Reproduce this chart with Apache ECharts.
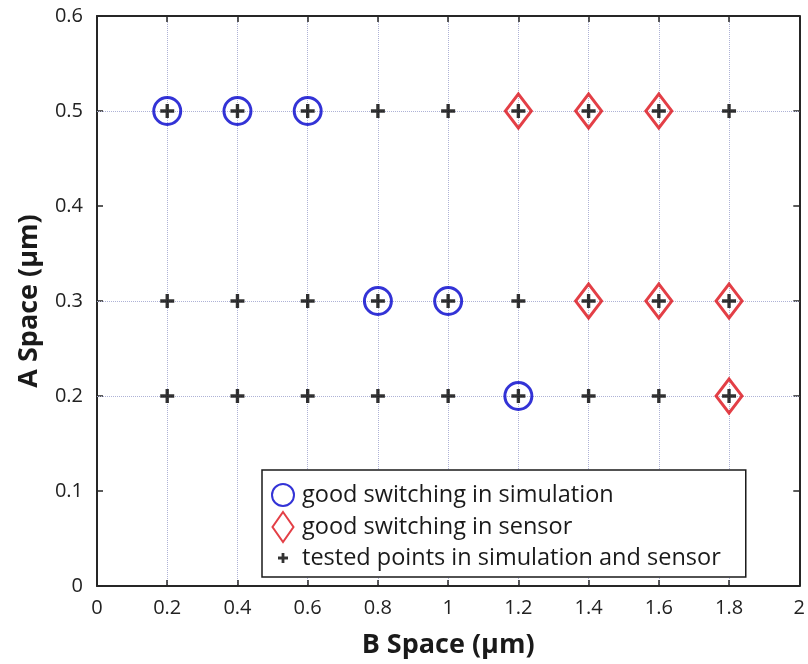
<!DOCTYPE html>
<html>
<head>
<meta charset="utf-8">
<script src="https://cdn.jsdelivr.net/npm/echarts@6/dist/echarts.min.js"></script>
<style>
html,body{margin:0;padding:0;background:#fff;}
#chart{width:808px;height:664px;}
</style>
</head>
<body>
<div id="chart"></div>
<script>
// ---- data ----
const xTicks = [0, 0.2, 0.4, 0.6, 0.8, 1, 1.2, 1.4, 1.6, 1.8, 2];
const yTicks = [0, 0.1, 0.2, 0.3, 0.4, 0.5, 0.6];
const testedB = [0.2,0.4,0.6,0.8,1.0,1.2,1.4,1.6,1.8, 0.2,0.4,0.6,0.8,1.0,1.2,1.4,1.6,1.8, 0.2,0.4,0.6,0.8,1.0,1.2,1.4,1.6,1.8];
const testedA = [0.5,0.5,0.5,0.5,0.5,0.5,0.5,0.5,0.5, 0.3,0.3,0.3,0.3,0.3,0.3,0.3,0.3,0.3, 0.2,0.2,0.2,0.2,0.2,0.2,0.2,0.2,0.2];
const simB = [0.2, 0.4, 0.6, 0.8, 1.0, 1.2];
const simA = [0.5, 0.5, 0.5, 0.3, 0.3, 0.2];
const sensorB = [1.2, 1.4, 1.6, 1.4, 1.6, 1.8, 1.8];
const sensorA = [0.5, 0.5, 0.5, 0.3, 0.3, 0.3, 0.2];
const gridRowsA = [0.2, 0.3, 0.5];
const legendNames = ['good switching in simulation', 'good switching in sensor', 'tested points in simulation and sensor'];
const xName = 'B Space (μm)';
const yName = 'A Space (μm)';

const zip = (xs, ys) => xs.map((x, i) => [x, ys[i]]);

const FONT = '"Open Sans", "Noto Sans", sans-serif';
const axisColor = '#262626';
const BLUE = '#0000cc';
const RED = '#dc0f18';
const GRIDC = '#aeb2d6';
const PLUS = 'path://M38,0H62V100H38ZM0,38H100V62H0Z';
const DIAMOND = 'path://M50,0L100,65L50,130L0,65Z';
// legend icons, padded to a 280x300 box
const L_CIRCLE = 'path://M0,0M280,300M30,150A110,110 0 1 1 250,150A110,110 0 1 1 30,150Z';
const L_DIAMOND = 'path://M0,0M280,300M140,0L245,150L140,300L35,150Z';
const L_PLUS = 'path://M0,0M280,300M126,100H154V200H126ZM90,136H190V164H90Z';

const fmt = v => String(+v.toFixed(2));

const chart = echarts.init(document.getElementById('chart'), null, {renderer: 'canvas'});
const tickStyle = {show: true, inside: true, length: 6, lineStyle: {color: axisColor, width: 1.5}};
const lineStyle = {show: true, onZero: false, lineStyle: {color: axisColor, width: 2}};
chart.setOption({
  animation: false,
  backgroundColor: '#fff',
  textStyle: {fontFamily: FONT},
  grid: {left: 97, right: 8, top: 16, bottom: 77, containLabel: false},
  xAxis: [{
    type: 'value', min: xTicks[0], max: xTicks[xTicks.length - 1], interval: 0.2,
    name: xName, nameLocation: 'middle', nameGap: 46,
    nameTextStyle: {fontFamily: FONT, fontSize: 27, fontWeight: 'bold', color: '#1a1a1a'},
    axisLine: lineStyle, axisTick: tickStyle,
    axisLabel: {fontFamily: FONT, fontSize: 20, color: '#222', margin: 12, formatter: fmt},
    splitLine: {show: true, lineStyle: {type: 'dotted', color: GRIDC, width: 1}}
  }, {
    type: 'value', position: 'top', min: xTicks[0], max: xTicks[xTicks.length - 1], interval: 0.2,
    axisLine: lineStyle, axisTick: tickStyle,
    axisLabel: {show: false}, splitLine: {show: false}
  }],
  yAxis: [{
    type: 'value', min: yTicks[0], max: yTicks[yTicks.length - 1], interval: 0.1,
    name: yName, nameLocation: 'middle', nameGap: 54, nameRotate: 90,
    nameTextStyle: {fontFamily: FONT, fontSize: 27, fontWeight: 'bold', color: '#1a1a1a'},
    axisLine: lineStyle, axisTick: tickStyle,
    axisLabel: {fontFamily: FONT, fontSize: 20, color: '#222', margin: 14, formatter: fmt},
    splitLine: {show: false}
  }, {
    type: 'value', position: 'right', min: yTicks[0], max: yTicks[yTicks.length - 1], interval: 0.1,
    axisLine: lineStyle, axisTick: tickStyle,
    axisLabel: {show: false}, splitLine: {show: false}
  }],
  legend: {
    orient: 'vertical', left: 262, top: 470,
    padding: [9, 25, 4, 6], itemGap: 0, itemWidth: 28, itemHeight: 30,
    backgroundColor: '#fff', borderColor: '#1a1a1a', borderWidth: 1.5, borderRadius: 0,
    textStyle: {fontFamily: FONT, fontSize: 23.5, color: '#1a1a1a'},
    selectedMode: false,
    data: [
      {name: legendNames[0], icon: L_CIRCLE},
      {name: legendNames[1], icon: L_DIAMOND},
      {name: legendNames[2], icon: L_PLUS}
    ]
  },
  series: [
    {
      name: legendNames[0], type: 'scatter', data: zip(simB, simA),
      symbol: 'circle', symbolSize: 27, z: 3,
      itemStyle: {color: 'rgba(0,0,0,0)', borderColor: BLUE, borderWidth: 3}
    },
    {
      name: legendNames[1], type: 'scatter', data: zip(sensorB, sensorA),
      symbol: DIAMOND, symbolSize: [26, 34], z: 3,
      itemStyle: {color: 'rgba(0,0,0,0)', borderColor: RED, borderWidth: 3}
    },
    {
      name: legendNames[2], type: 'scatter', data: zip(testedB, testedA),
      symbol: PLUS, symbolSize: 14, z: 4,
      itemStyle: {color: '#000'},
      markLine: {
        silent: true, symbol: 'none', label: {show: false}, z: 1,
        lineStyle: {type: 'dotted', color: GRIDC, width: 1},
        data: gridRowsA.map(v => ({yAxis: v}))
      }
    }
  ]
});
</script>
</body>
</html>
